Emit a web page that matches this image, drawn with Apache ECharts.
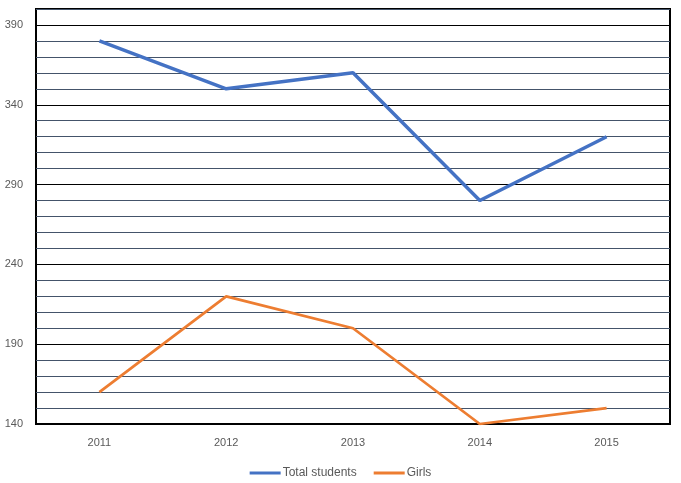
<!DOCTYPE html>
<html>
<head>
<meta charset="utf-8">
<script src="https://cdn.jsdelivr.net/npm/echarts@6/dist/echarts.min.js"></script>
<style>html,body{margin:0;padding:0;background:#fff}#c{width:681px;height:483px}</style>
</head>
<body>
<div id="c"></div>
<script>
var years = ['2011', '2012', '2013', '2014', '2015'];
var totalStudents = [380, 350, 360, 280, 320];
var girls = [160, 220, 200, 140, 150];
var yMin = 140, yMax = 400, yStep = 10;

var chart = echarts.init(document.getElementById('c'), null, {renderer: 'canvas'});
chart.setOption({
  animation: false,
  backgroundColor: '#ffffff',
  textStyle: {fontFamily: 'Liberation Sans, Arial, sans-serif'},
  grid: {left: 36, right: 11, top: 9, bottom: 59, show: true, borderColor: '#000000', borderWidth: 2, containLabel: false},
  legend: {
    top: 467, left: 'center', padding: 0,
    data: [{name: 'Total students', icon: 'rect'}, {name: 'Girls', icon: 'rect'}],
    itemWidth: 31, itemHeight: 3, itemGap: 17,
    textStyle: {color: '#595959', fontSize: 12, padding: [0, 0, 0, -3]}
  },
  xAxis: {
    type: 'category', data: years, boundaryGap: true,
    axisLine: {show: true, lineStyle: {color: '#000000', width: 2}},
    axisTick: {show: false},
    axisLabel: {color: '#595959', fontSize: 11, margin: 13},
    splitLine: {show: false}
  },
  yAxis: {
    type: 'value', min: yMin, max: yMax, interval: yStep,
    axisLine: {show: false}, axisTick: {show: false},
    axisLabel: {color: '#595959', fontSize: 11, margin: 13,
      formatter: function (v) { return ((v - yMin) % 50 === 0 && v < yMax) ? String(v) : ''; }},
    splitLine: {show: true, lineStyle: {color: ['#000000', '#44546a', '#44546a', '#44546a', '#44546a'], width: 1}}
  },
  series: [
    {name: 'Total students', type: 'line', data: totalStudents, symbol: 'none', lineStyle: {color: '#4472c4', width: 3.5}, itemStyle: {color: '#4472c4'}},
    {name: 'Girls', type: 'line', data: girls, symbol: 'none', lineStyle: {color: '#ed7d31', width: 2.75}, itemStyle: {color: '#ed7d31'}}
  ]
});
</script>
</body>
</html>
